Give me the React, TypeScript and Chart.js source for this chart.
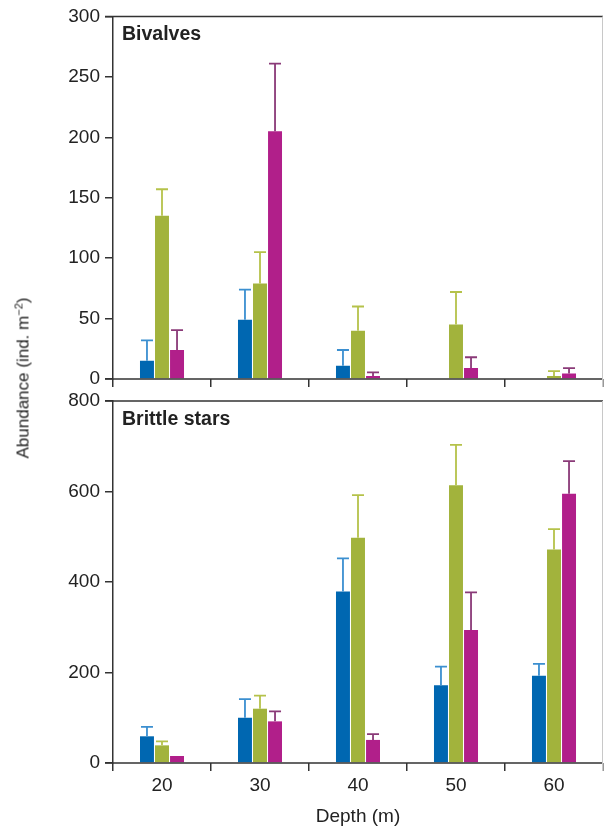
import React, { useEffect, useRef } from "react";
import { Chart, registerables } from "chart.js";

Chart.register(...registerables);

const depths = ["20", "30", "40", "50", "60"];
const seriesNames = ["Series A", "Series B", "Series C"];

const bivalvesBlue = [15, 49, 11, 0, 0];
const bivalvesGreen = [135, 79, 40, 45, 2.5];
const bivalvesMagenta = [24, 205, 2.5, 9, 4.5];
const bivalvesBlueErr = [32, 74, 24, null, null];
const bivalvesGreenErr = [157, 105, 60, 72, 6.5];
const bivalvesMagentaErr = [40.5, 261, 5.5, 18, 9];

const brittleBlue = [59, 100, 379, 172, 193];
const brittleGreen = [39, 120, 498, 614, 472];
const brittleMagenta = [15.5, 92, 51, 294, 595];
const brittleBlueErr = [80, 141, 452, 213, 219];
const brittleGreenErr = [48, 149, 592, 703, 517];
const brittleMagentaErr = [null, 114, 64, 377, 667];

const bivalvesTicks = [0, 50, 100, 150, 200, 250, 300];
const brittleTicks = [0, 200, 400, 600, 800];

const barColors = ["#0067b1", "#a2b33c", "#b11f8a"];
const errColors = ["#3b8fd0", "#b5c24a", "#8a3a78"];
const FONT = "'Liberation Sans', Arial, Helvetica, sans-serif";
const AXIS = "#333333";

const errorBarPlugin = {
  id: "errorBars",
  afterDatasetsDraw(chart: any) {
    const errs = chart.options.plugins.errorBars.errors as (number | null)[][];
    const ctx = chart.ctx;
    const yScale = chart.scales.y;
    ctx.save();
    errs.forEach((arr, di) => {
      const meta = chart.getDatasetMeta(di);
      arr.forEach((v, i) => {
        if (v == null) return;
        const el = meta.data[i] as any;
        const x = el.x;
        const yTop = yScale.getPixelForValue(v);
        const yBar = el.y;
        ctx.strokeStyle = errColors[di];
        ctx.lineWidth = 1.8;
        ctx.beginPath();
        ctx.moveTo(x, yBar);
        ctx.lineTo(x, yTop);
        ctx.moveTo(x - 6, yTop);
        ctx.lineTo(x + 6, yTop);
        ctx.stroke();
      });
    });
    ctx.restore();
  },
};

const framePlugin = {
  id: "frame",
  afterDraw(chart: any) {
    const { left, right, top, bottom } = chart.chartArea;
    const ctx = chart.ctx;
    ctx.save();
    ctx.strokeStyle = AXIS;
    ctx.lineWidth = 1.5;
    ctx.beginPath();
    ctx.moveTo(left - 8, top);
    ctx.lineTo(right, top);
    ctx.moveTo(left - 8, bottom);
    ctx.lineTo(right, bottom);
    ctx.stroke();
    ctx.strokeStyle = "#c8c8c8";
    ctx.lineWidth = 1;
    ctx.beginPath();
    ctx.moveTo(right - 0.5, top);
    ctx.lineTo(right - 0.5, bottom + 8);
    ctx.stroke();
    ctx.restore();
  },
};

function makeConfig(
  values: number[][],
  errors: (number | null)[][],
  yMax: number,
  step: number,
  ticks: number[],
  padTop: number,
  xHeight: number,
  showX: boolean
): any {
  return {
    type: "bar",
    data: {
      labels: depths,
      datasets: values.map((v, i) => ({
        label: seriesNames[i],
        data: v,
        backgroundColor: barColors[i],
        borderWidth: 0,
        categoryPercentage: 0.46,
        barPercentage: 0.93,
      })),
    },
    plugins: [errorBarPlugin, framePlugin],
    options: {
      animation: false,
      responsive: false,
      maintainAspectRatio: false,
      layout: { padding: { left: 0, right: 1, top: padTop, bottom: 0 } },
      plugins: {
        legend: { display: false },
        tooltip: { enabled: false },
        errorBars: { errors },
      },
      scales: {
        x: {
          grid: {
            offset: true,
            drawOnChartArea: false,
            drawTicks: true,
            tickLength: 8,
            color: AXIS,
            lineWidth: 1.5,
          },
          border: { display: false },
          ticks: {
            display: showX,
            color: "#222",
            font: { family: FONT, size: 19 },
            padding: 3,
          },
          afterFit(scale: any) {
            scale.height = xHeight;
          },
        },
        y: {
          min: 0,
          max: yMax,
          afterBuildTicks(scale: any) {
            scale.ticks = ticks.map((t) => ({ value: t }));
          },
          grid: {
            drawOnChartArea: false,
            drawTicks: true,
            tickLength: 8,
            color: AXIS,
            lineWidth: 1.5,
          },
          border: { display: true, color: AXIS, width: 1.5 },
          ticks: {
            stepSize: step,
            color: "#222",
            font: { family: FONT, size: 19 },
            padding: 5,
          },
          afterFit(scale: any) {
            scale.width = 113;
          },
        },
      },
    },
  };
}

export default function App() {
  const ref1 = useRef<HTMLCanvasElement>(null);
  const ref2 = useRef<HTMLCanvasElement>(null);

  useEffect(() => {
    document.body.style.margin = "0";
    document.body.style.overflow = "hidden";
    const c1 = new Chart(
      ref1.current!,
      makeConfig(
        [bivalvesBlue, bivalvesGreen, bivalvesMagenta],
        [bivalvesBlueErr, bivalvesGreenErr, bivalvesMagentaErr],
        300,
        50,
        bivalvesTicks,
        16,
        21,
        false
      )
    );
    const c2 = new Chart(
      ref2.current!,
      makeConfig(
        [brittleBlue, brittleGreen, brittleMagenta],
        [brittleBlueErr, brittleGreenErr, brittleMagentaErr],
        800,
        200,
        brittleTicks,
        21,
        64,
        true
      )
    );
    return () => {
      c1.destroy();
      c2.destroy();
    };
  }, []);

  const textStyle: React.CSSProperties = {
    position: "absolute",
    fontFamily: FONT,
    color: "#222",
    whiteSpace: "nowrap",
    lineHeight: 1,
  };

  return (
    <div
      style={{
        position: "relative",
        width: 604,
        height: 827,
        background: "#fff",
        overflow: "hidden",
      }}
    >
      <canvas
        ref={ref1}
        width={604}
        height={400}
        style={{ position: "absolute", left: 0, top: 0, width: 604, height: 400 }}
      />
      <canvas
        ref={ref2}
        width={604}
        height={447}
        style={{ position: "absolute", left: 0, top: 380, width: 604, height: 447 }}
      />
      <div style={{ ...textStyle, left: 122, top: 24, fontSize: 19.5, fontWeight: "bold" }}>
        Bivalves
      </div>
      <div style={{ ...textStyle, left: 122, top: 409, fontSize: 19.5, fontWeight: "bold" }}>
        Brittle stars
      </div>
      <div
        style={{
          ...textStyle,
          left: 358,
          top: 806,
          fontSize: 19,
          transform: "translateX(-50%)",
        }}
      >
        Depth (m)
      </div>
      <div
        style={{
          ...textStyle,
          left: 23,
          top: 378,
          fontSize: 17,
          transform: "translate(-50%, -50%) rotate(-90deg)",
        }}
      >
        Abundance (ind. m<sup style={{ fontSize: 11, verticalAlign: "6px", lineHeight: 0 }}>−2</sup>)
      </div>
    </div>
  );
}
